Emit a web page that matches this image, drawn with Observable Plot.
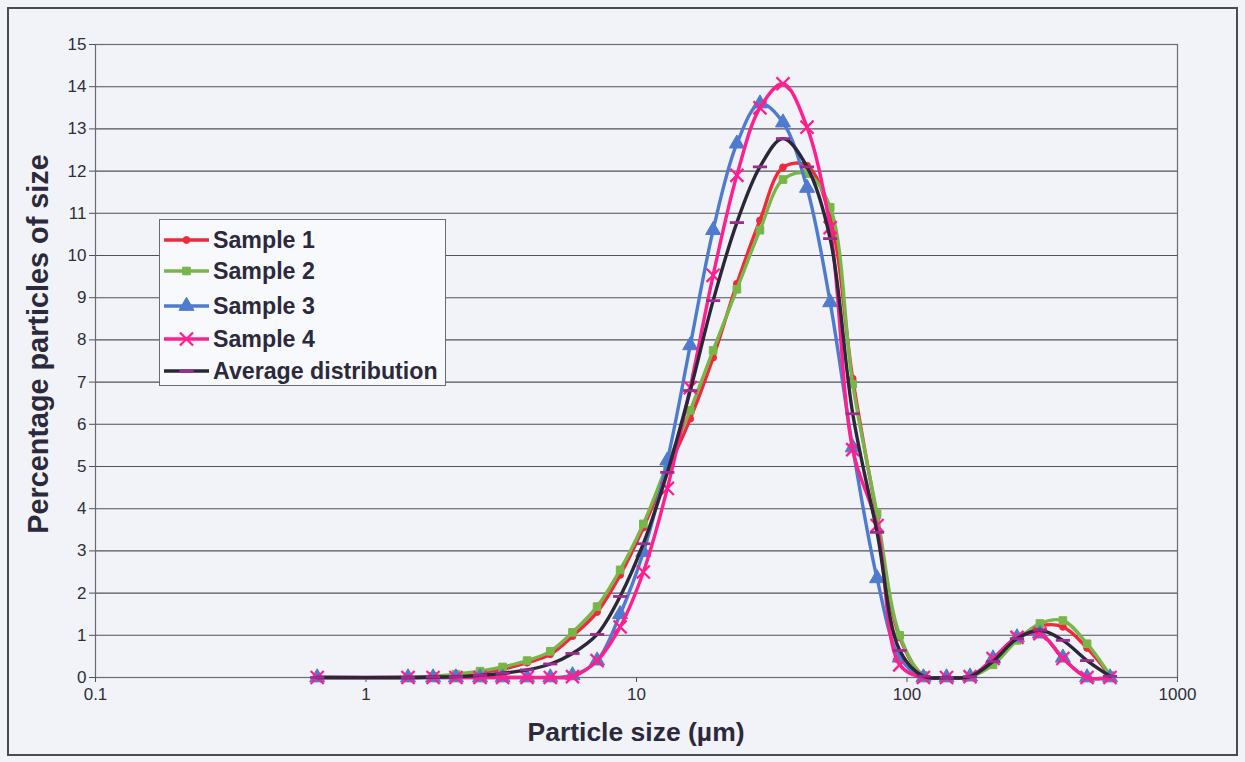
<!DOCTYPE html>
<html>
<head>
<meta charset="utf-8">
<script src="https://cdn.jsdelivr.net/npm/d3@7"></script>
<script src="https://cdn.jsdelivr.net/npm/@observablehq/plot@0.6"></script>
<style>
  html, body { margin: 0; padding: 0; background: #f2f3f9; }
  #wrap { position: relative; width: 1245px; height: 762px; overflow: hidden; background: #f2f3f9;
          font-family: "Liberation Sans", Arial, sans-serif; }
  #frame { position: absolute; left: 7px; top: 7px; width: 1231px; height: 749px; border: 2px solid #4a4a56; box-sizing: border-box; pointer-events: none; }
  #chart { position: absolute; left: 0; top: 0; }
  #xtitle { position: absolute; left: 0; width: 1272px; top: 717px; text-align: center; font-weight: bold; font-size: 26.5px; color: #2b2a3c; }
  #ytitle { position: absolute; left: 38px; top: 344px; transform: translate(-50%, -50%) rotate(-90deg); white-space: nowrap;
            font-weight: bold; font-size: 28.8px; color: #2b2a3c; }
  #legend { position: absolute; left: 159px; top: 219px; width: 287px; height: 167px; background: #f8f9fd;
            border: 1.5px solid #6a6a72; box-sizing: border-box; }
  .lrow { position: absolute; left: 2px; height: 30px; display: flex; align-items: center; }
  .lrow span { font-weight: bold; font-size: 23.2px; color: #2b2a3c; margin-left: 3px; white-space: nowrap; }
</style>
</head>
<body>
<div id="wrap">
  <div id="chart"></div>
  <div id="legend"></div>
  <div id="ytitle">Percentage particles of size</div>
  <div id="xtitle">Particle size (µm)</div>
  <div id="frame"></div>
</div>
<script>
// Particle size classes (µm)
const sizes = [0.66, 1.43, 1.77, 2.15, 2.64, 3.2, 3.94, 4.8, 5.8, 7.15, 8.7, 10.6, 13, 15.8, 19.2, 23.5, 28.6, 34.8, 42.7, 52, 63, 77.5, 94, 115, 140, 171, 208, 255, 310, 377, 463, 563];

// Percentage of particles per size class
const sample1 = [0, 0, 0.01, 0.06, 0.12, 0.2, 0.35, 0.55, 0.98, 1.55, 2.43, 3.55, 4.9, 6.13, 7.58, 9.33, 10.83, 12.09, 12.13, 10.9, 7.08, 3.8, 0.95, 0.05, 0, 0.02, 0.35, 0.9, 1.22, 1.2, 0.7, 0.05];
const sample2 = [0, 0, 0.03, 0.08, 0.15, 0.25, 0.4, 0.62, 1.07, 1.68, 2.55, 3.64, 5.05, 6.33, 7.75, 9.2, 10.6, 11.8, 11.94, 11.14, 6.95, 3.88, 1.0, 0.05, 0, 0.02, 0.3, 0.88, 1.28, 1.35, 0.8, 0.05];
const sample3 = [0, 0, 0, 0, 0, 0, 0, 0, 0.05, 0.4, 1.5, 2.97, 5.14, 7.87, 10.6, 12.65, 13.6, 13.15, 11.6, 8.89, 5.45, 2.35, 0.47, 0, 0, 0.02, 0.45, 0.95, 1.04, 0.47, 0, 0];
const sample4 = [0, 0, 0, 0, 0, 0, 0, 0, 0.02, 0.4, 1.2, 2.5, 4.48, 6.87, 9.53, 11.9, 13.5, 14.07, 13.04, 10.66, 5.4, 3.6, 0.3, 0, 0, 0.02, 0.45, 0.95, 1.04, 0.45, 0, 0];
const average = [0, 0, 0.01, 0.02, 0.05, 0.1, 0.18, 0.32, 0.57, 1.02, 1.92, 3.17, 4.86, 6.8, 8.93, 10.78, 12.1, 12.77, 12.1, 10.4, 6.25, 3.44, 0.64, 0.03, 0, 0.02, 0.38, 0.92, 1.12, 0.88, 0.4, 0.03];

const seriesNames = ["Sample 1", "Sample 2", "Sample 3", "Sample 4", "Average distribution"];
const seriesValues = [sample1, sample2, sample3, sample4, average];

const xTicks = [0.1, 1, 10, 100, 1000];
const xTickLabels = ["0.1", "1", "10", "100", "1000"];
const yTicks = [0, 1, 2, 3, 4, 5, 6, 7, 8, 9, 10, 11, 12, 13, 14, 15];
const xLabelOf = new Map(xTicks.map((t, i) => [t, xTickLabels[i]]));

// styling per series
const lineColors = ["#f2283c", "#78b648", "#4f7bcf", "#ff1f8e", "#2a2838"];
const markerFill = ["#f2283c", "#78b648", "#4f7bcf", "none", "none"];
const markerStroke = ["#f2283c", "#78b648", "#4f7bcf", "#ff1f8e", "#9c2c8f"];
const dashSymbol = { draw(ctx, size) { const w = Math.sqrt(size); ctx.moveTo(-w, 0); ctx.lineTo(w, 0); } };
const markerSymbols = ["circle", "square", "triangle", "times", dashSymbol];
const markerR = [3.4, 4.3, 5.6, 6, 4];
const markerSW = [1, 1, 1, 2.3, 2.8];

const rows = seriesNames.map((name, i) => sizes.map((x, j) => ({ series: name, x, y: seriesValues[i][j] })));

const marks = [
  Plot.gridY(yTicks, { stroke: "#50505a", strokeOpacity: 1, strokeWidth: 1.1 }),
  Plot.frame({ stroke: "#6a6a72", strokeWidth: 1.2 }),
  Plot.axisY(yTicks, { tickSize: 6, tickPadding: 3, fontSize: 17, label: null, stroke: "#50505a", fill: "#2e2e3a" }),
  Plot.axisX(xTicks, { tickSize: 5, tickPadding: 5, fontSize: 17, label: null, stroke: "#50505a", fill: "#2e2e3a", tickFormat: (d) => xLabelOf.get(d) })
];
rows.forEach((data, i) => {
  marks.push(Plot.line(data, { x: "x", y: "y", stroke: lineColors[i], strokeWidth: 3.4, curve: "catmull-rom" }));
  marks.push(Plot.dot(data, { x: "x", y: "y", symbol: markerSymbols[i], r: markerR[i], fill: markerFill[i], stroke: markerStroke[i], strokeWidth: markerSW[i] }));
});

const chart = Plot.plot({
  width: 1245,
  height: 762,
  marginLeft: 95,
  marginRight: 68,
  marginTop: 44,
  marginBottom: 85,
  style: { background: "transparent", fontFamily: "'Liberation Sans', Arial, sans-serif", color: "#2e2e3a", fontSize: "17px" },
  x: { type: "log", domain: [0.1, 1000] },
  y: { domain: [0, 15] },
  marks
});
document.getElementById("chart").appendChild(chart);

// legend
const legend = document.getElementById("legend");
const rowTops = [5, 36, 71, 104, 136];
seriesNames.forEach((name, i) => {
  const row = document.createElement("div");
  row.className = "lrow";
  row.style.top = rowTops[i] + "px";
  const sw = d3.create("svg").attr("width", 48).attr("height", 30);
  sw.append("line").attr("x1", 2).attr("x2", 47).attr("y1", 15).attr("y2", 15)
    .attr("stroke", lineColors[i]).attr("stroke-width", 3.4);
  const sym = typeof markerSymbols[i] === "string"
    ? ({ circle: d3.symbolCircle, square: d3.symbolSquare, triangle: d3.symbolTriangle, times: d3.symbolTimes })[markerSymbols[i]]
    : markerSymbols[i];
  sw.append("path").attr("transform", "translate(24.5,15)")
    .attr("d", d3.symbol(sym, markerR[i] * markerR[i] * Math.PI)())
    .attr("fill", markerFill[i]).attr("stroke", markerStroke[i]).attr("stroke-width", markerSW[i]);
  row.appendChild(sw.node());
  const t = document.createElement("span");
  t.textContent = name;
  row.appendChild(t);
  legend.appendChild(row);
});
</script>
</body>
</html>
